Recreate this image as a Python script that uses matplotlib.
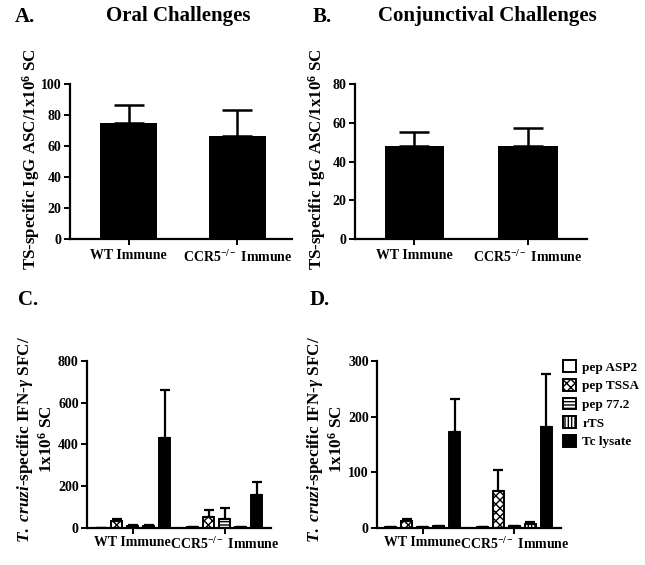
import numpy as np
import matplotlib.pyplot as plt

plt.rcParams['font.family'] = ['Liberation Serif', 'DejaVu Serif']
plt.rcParams['font.weight'] = 'bold'
plt.rcParams['axes.labelweight'] = 'bold'
plt.rcParams['mathtext.fontset'] = 'custom'
plt.rcParams['mathtext.rm'] = 'Liberation Serif:bold'
plt.rcParams['mathtext.it'] = 'Liberation Serif:bold:italic'
plt.rcParams['mathtext.bf'] = 'Liberation Serif:bold'
plt.rcParams['hatch.linewidth'] = 1.0

groups = ['WT Immune', 'CCR5$^{-/-}$ Immune']

# panel A / B: TS-specific IgG ASC
oral_mean = [74.8, 66.5]
oral_err = [11.7, 16.7]
conj_mean = [47.8, 48]
conj_err = [7.4, 9.3]

# panel C / D: IFN-gamma SFC per antigen
antigens = ['pep ASP2', 'pep TSSA', 'pep 77.2', 'rTS', 'Tc lysate']
oral_ifn_wt = [2, 35, 9, 9, 430]
oral_ifn_wt_err = [0, 10, 3, 3, 230]
oral_ifn_ko = [3, 55, 45, 5, 160]
oral_ifn_ko_err = [0, 30, 50, 2, 62]
conj_ifn_wt = [1, 12, 1, 3, 173]
conj_ifn_wt_err = [0, 4, 0, 1, 59]
conj_ifn_ko = [1.5, 67, 3, 8, 182]
conj_ifn_ko_err = [0, 37, 0, 2, 95]

face = ['white', 'white', 'white', 'white', 'black']
hatches = ['', 'xxxx', '-----', '|||||', '']

fig = plt.figure(figsize=(6.45, 5.65), dpi=100)


def style(ax):
    for s in ['top', 'right']:
        ax.spines[s].set_visible(False)
    for s in ['left', 'bottom']:
        ax.spines[s].set_linewidth(1.6)
    ax.tick_params(width=1.4, length=4, labelsize=10)
    ax.tick_params(axis='y', pad=2)


def simple_panel(rect, means, errs, ymax, step, ylabel, xlim):
    ax = fig.add_axes(rect)
    x = np.arange(len(means))
    ax.bar(x, means, width=0.52, color='black')
    ax.errorbar(x, means, yerr=[np.zeros(len(errs)), errs], fmt='none',
                ecolor='black', elinewidth=1.8, capsize=11, capthick=1.8)
    ax.set_xlim(*xlim)
    ax.set_ylim(0, ymax)
    ax.set_yticks(np.arange(0, ymax + 1, step))
    ax.set_xticks(x)
    ax.set_xticklabels(groups, fontsize=12)
    style(ax)
    ax.tick_params(axis='x', pad=3)
    ax.set_ylabel(ylabel, fontsize=12.2)
    return ax


def antigen_panel(rect, wt, wt_err, ko, ko_err, ymax, step, ylabel):
    ax = fig.add_axes(rect)
    centers = np.array([0, 5.75])
    offs = np.arange(-2, 3)
    for i in range(len(antigens)):
        xs = centers + offs[i]
        vals = [wt[i], ko[i]]
        errs = [wt_err[i], ko_err[i]]
        ax.bar(xs, vals, width=0.72, color=face[i], edgecolor='black',
               linewidth=1.4, hatch=hatches[i], label=antigens[i])
        ax.errorbar(xs, vals, yerr=[[0, 0], errs], fmt='none', ecolor='black',
                    elinewidth=1.6, capsize=3.5, capthick=1.6)
    ax.set_xlim(-2.85, 8.65)
    ax.set_ylim(0, ymax)
    ax.set_yticks(np.arange(0, ymax + 1, step))
    ax.set_xticks(centers)
    ax.set_xticklabels(groups, fontsize=10)
    style(ax)
    ax.tick_params(axis='x', pad=2)
    ax.set_ylabel(ylabel, fontsize=12.3, linespacing=1.2)
    return ax


ylab_ts = 'TS-specific IgG ASC/1x10$^{6}$ SC'
ylab_ifn = '$T.\\ cruzi$-specific IFN-$\\gamma$ SFC/\n1x10$^{6}$ SC'

axa = simple_panel([0.1085, 0.577, 0.344, 0.2743], oral_mean, oral_err, 100, 20,
                   ylab_ts, (-0.54, 1.5))
axa.yaxis.set_label_coords(-0.128, 0.513)
axb = simple_panel([0.5504, 0.577, 0.36, 0.2743], conj_mean, conj_err, 80, 20,
                   ylab_ts, (-0.52, 1.52))
axb.yaxis.set_label_coords(-0.118, 0.513)

axc = antigen_panel([0.135, 0.0655, 0.285, 0.2956], oral_ifn_wt, oral_ifn_wt_err,
                    oral_ifn_ko, oral_ifn_ko_err, 800, 200, ylab_ifn)
axc.yaxis.set_label_coords(-0.17, 0.53)
axd = antigen_panel([0.5845, 0.0655, 0.285, 0.2956], conj_ifn_wt, conj_ifn_wt_err,
                    conj_ifn_ko, conj_ifn_ko_err, 300, 100, ylab_ifn)
axd.yaxis.set_label_coords(-0.17, 0.53)
axd.legend(loc='upper left', bbox_to_anchor=(0.864, 0.372), bbox_transform=fig.transFigure,
           frameon=False, fontsize=9.5, handlelength=1.0, handleheight=1.0,
           handletextpad=0.5, labelspacing=0.4, borderaxespad=0)

fig.text(0.023, 0.97, 'A.', fontsize=15, ha='left', va='center')
fig.text(0.277, 0.972, 'Oral Challenges', fontsize=15, ha='center', va='center')
fig.text(0.485, 0.97, 'B.', fontsize=15, ha='left', va='center')
fig.text(0.755, 0.972, 'Conjunctival Challenges', fontsize=15, ha='center', va='center')
fig.text(0.028, 0.469, 'C.', fontsize=15, ha='left', va='center')
fig.text(0.48, 0.469, 'D.', fontsize=15, ha='left', va='center')

fig.savefig('out.png', dpi=100)
